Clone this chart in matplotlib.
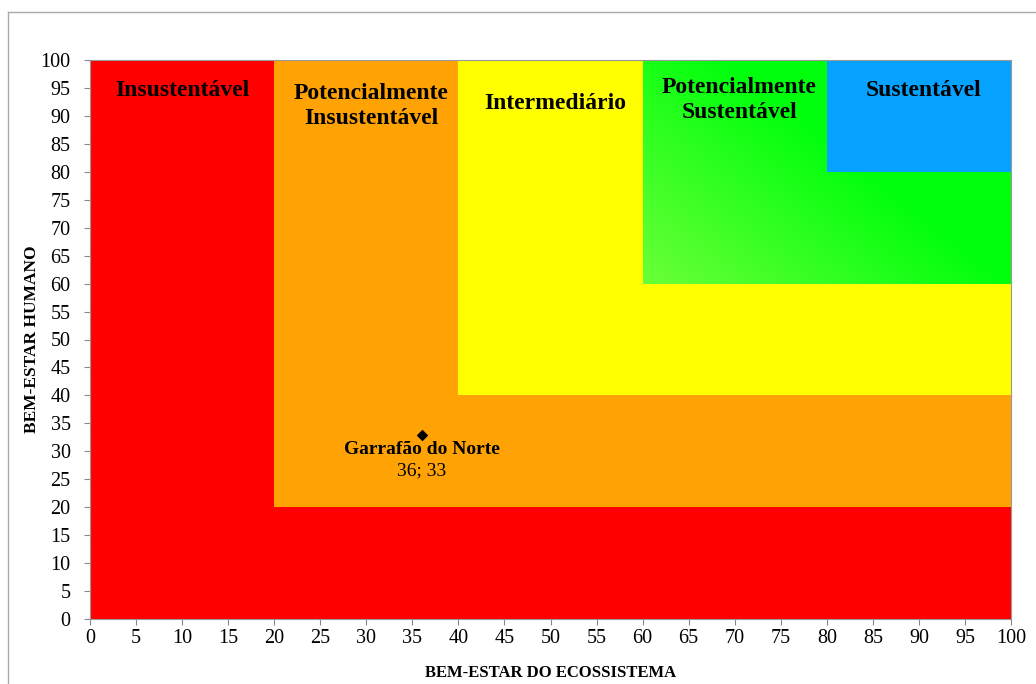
import numpy as np
import matplotlib.pyplot as plt
from matplotlib.patches import Rectangle
from matplotlib.lines import Line2D

plt.rcParams['font.family'] = ['Liberation Serif', 'DejaVu Serif']

# nested zones: lower-left corner (same on both axes), colour, label
zone_start = [0, 20, 40, 60, 80]
zone_colors = ['#fe0000', '#ffa305', '#ffff00', '#22ff10', '#05a3ff']
zone_names = ['Insustentável', 'Potencialmente\nInsustentável', 'Intermediário',
              'Potencialmente\nSustentável', 'Sustentável']
label_x = [10, 30.5, 50.5, 70.5, 90.5]
label_y = [94.6, 91.7, 92.2, 92.8, 94.6]

point_name = 'Garrafão do Norte'
point_x = [36]
point_y = [33]

fig = plt.figure(figsize=(10.36, 6.84), dpi=100)
ax = fig.add_axes([90 / 1036, 1 - 619 / 684, 921 / 1036, 559 / 684])

for s, c in zip(zone_start, zone_colors):
    if c == '#22ff10':
        # green zone has a soft gradient, lighter toward the lower-left
        n = 200
        gx, gy = np.meshgrid(np.linspace(0, 1, n), np.linspace(0, 1, n))
        t = np.clip((1.3 * gx + gy) / 1.3, 0, 1)
        light = np.array([0.42, 1.0, 0.22])
        dark = np.array([0.0, 1.0, 0.05])
        img = light[None, None, :] * (1 - t[..., None]) + dark[None, None, :] * t[..., None]
        ax.imshow(img, extent=(s, 100, s, 100), origin='lower', aspect='auto', zorder=1)
    else:
        ax.add_patch(Rectangle((s, s), 100 - s, 100 - s, facecolor=c,
                               edgecolor='none', zorder=1))

for name, lx, ly in zip(zone_names, label_x, label_y):
    ax.text(lx, ly, name, ha='center', va='center', fontsize=17,
            fontweight='bold', linespacing=1.25, zorder=3)

ax.scatter(point_x, point_y, marker='D', s=24, color='black', zorder=4)
ax.text(point_x[0], point_y[0] - 2.7, point_name, ha='center', va='center',
        fontsize=14, fontweight='bold', zorder=4)
ax.text(point_x[0], point_y[0] - 6.6, f'{point_x[0]}; {point_y[0]}', ha='center',
        va='center', fontsize=14, zorder=4)

ax.set_xlim(0, 100)
ax.set_ylim(0, 100)
ax.set_xticks(np.arange(0, 101, 5))
ax.set_yticks(np.arange(0, 101, 5))
ax.tick_params(labelsize=14.5, length=4, color='#888888')
ax.tick_params(axis='y', pad=10)
for sp in ax.spines.values():
    sp.set_color('#999999')
ax.set_xlabel('BEM-ESTAR DO ECOSSISTEMA', fontsize=12, fontweight='bold', labelpad=12)
ax.set_ylabel('BEM-ESTAR HUMANO', fontsize=12.5, fontweight='bold', labelpad=0)

# outer chart border (only left and top edges are visible)
fig.add_artist(Line2D([8 / 1036, 8 / 1036], [0, 1 - 12 / 684], color='#aaaaaa', lw=1))
fig.add_artist(Line2D([8 / 1036, 1], [1 - 12 / 684, 1 - 12 / 684], color='#aaaaaa', lw=1))

fig.savefig('out.png', dpi=100)
